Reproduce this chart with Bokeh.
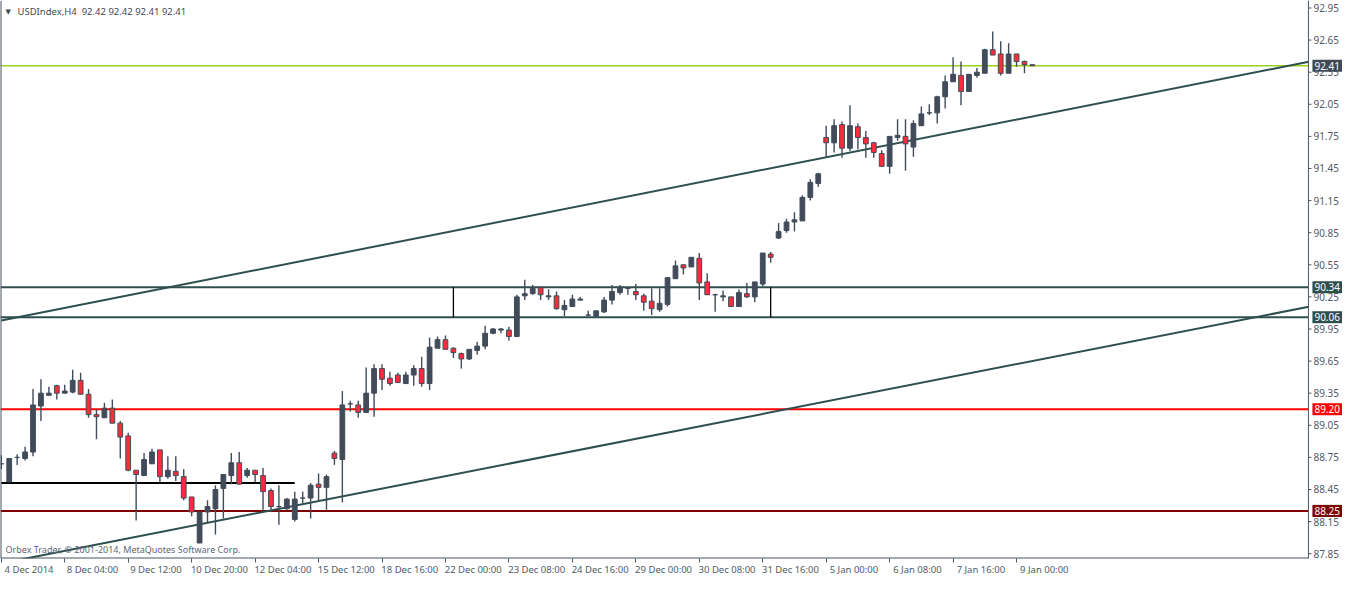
from bokeh.plotting import figure
from bokeh.models import Range1d, FixedTicker, Label, ColumnDataSource, LinearAxis
from bokeh.core.properties import value
from bokeh.embed import file_html
from bokeh.resources import INLINE

# ---------------- data ----------------
symbol = "USDIndex,H4"

opens = [88.69, 88.52, 88.75, 88.74, 88.80, 89.23, 89.33, 89.42, 89.35, 89.36,
         89.47, 89.34, 89.15, 89.12, 89.21, 89.07, 88.95, 88.63, 88.58, 88.69,
         88.82, 88.57, 88.62, 88.57, 88.38, 87.95, 88.24, 88.27, 88.46, 88.58,
         88.70, 88.58, 88.63, 88.58, 88.44, 88.29, 88.27, 88.17, 88.37, 88.37,
         88.50, 88.47, 88.79, 88.73, 89.25, 89.24, 89.17, 89.35, 89.58, 89.49,
         89.52, 89.44, 89.52, 89.58, 89.44, 89.77, 89.85, 89.77, 89.72, 89.67,
         89.75, 89.79, 89.91, 89.94, 89.94, 89.88, 90.26, 90.28, 90.34, 90.25,
         90.26, 90.13, 90.16, 90.22, 90.08, 90.07, 90.11, 90.22, 90.29, 90.33,
         90.30, 90.26, 90.21, 90.13, 90.18, 90.42, 90.55, 90.53, 90.61, 90.39,
         90.27, 90.25, 90.25, 90.16, 90.28, 90.25, 90.37, 90.65, 90.80, 90.87,
         90.95, 90.96, 91.18, 91.31, 91.74, 91.69, 91.86, 91.64, 91.84, 91.74,
         91.69, 91.59, 91.47, 91.74, 91.75, 91.65, 91.85, 91.97, 91.97, 92.12,
         92.26, 92.32, 92.17, 92.32, 92.34, 92.56, 92.52, 92.34, 92.52, 92.45,
         92.42]
highs = [88.77, 88.74, 88.78, 88.85, 89.39, 89.48, 89.41, 89.43, 89.43, 89.57,
         89.54, 89.39, 89.20, 89.26, 89.29, 89.09, 88.98, 88.63, 88.79, 88.83,
         88.82, 88.76, 88.76, 88.64, 88.38, 88.24, 88.35, 88.49, 88.59, 88.79,
         88.80, 88.65, 88.63, 88.65, 88.46, 88.49, 88.37, 88.43, 88.43, 88.51,
         88.60, 88.59, 88.81, 89.37, 89.28, 89.28, 89.59, 89.62, 89.62, 89.55,
         89.54, 89.55, 89.61, 89.69, 89.87, 89.88, 89.89, 89.78, 89.73, 89.76,
         89.83, 89.98, 89.96, 89.96, 89.97, 90.27, 90.41, 90.36, 90.34, 90.32,
         90.30, 90.22, 90.27, 90.25, 90.12, 90.12, 90.25, 90.36, 90.36, 90.34,
         90.37, 90.28, 90.33, 90.33, 90.43, 90.59, 90.55, 90.62, 90.66, 90.47,
         90.28, 90.31, 90.25, 90.32, 90.38, 90.39, 90.66, 90.67, 90.94, 90.98,
         91.04, 91.20, 91.35, 91.41, 91.85, 91.91, 91.89, 92.04, 91.87, 91.80,
         91.70, 91.62, 91.75, 91.91, 91.91, 91.90, 92.03, 92.05, 92.13, 92.32,
         92.49, 92.45, 92.33, 92.39, 92.57, 92.73, 92.64, 92.62, 92.52, 92.46,
         92.42]
lows = [88.64, 88.52, 88.68, 88.72, 88.76, 89.09, 89.33, 89.29, 89.35, 89.35,
        89.34, 89.12, 88.92, 89.12, 89.07, 88.74, 88.62, 88.16, 88.58, 88.69,
        88.52, 88.55, 88.53, 88.35, 88.20, 87.95, 88.14, 88.03, 88.18, 88.50,
        88.50, 88.56, 88.52, 88.26, 88.24, 88.12, 88.26, 88.15, 88.32, 88.18,
        88.34, 88.26, 88.68, 88.33, 89.18, 89.12, 89.17, 89.13, 89.38, 89.42,
        89.45, 89.44, 89.42, 89.41, 89.38, 89.77, 89.76, 89.68, 89.58, 89.66,
        89.71, 89.76, 89.90, 89.91, 89.84, 89.88, 90.22, 90.27, 90.22, 90.22,
        90.13, 90.07, 90.16, 90.22, 90.07, 90.06, 90.10, 90.18, 90.27, 90.27,
        90.22, 90.12, 90.08, 90.11, 90.16, 90.42, 90.46, 90.53, 90.22, 90.27,
        90.11, 90.21, 90.16, 90.16, 90.24, 90.20, 90.35, 90.57, 90.79, 90.85,
        90.86, 90.96, 91.15, 91.28, 91.55, 91.60, 91.55, 91.61, 91.63, 91.55,
        91.55, 91.47, 91.40, 91.71, 91.43, 91.56, 91.85, 91.95, 91.87, 92.01,
        92.26, 92.04, 92.17, 92.30, 92.34, 92.51, 92.32, 92.34, 92.40, 92.34,
        92.41]
closes = [88.69, 88.74, 88.75, 88.80, 89.24, 89.35, 89.35, 89.35, 89.37, 89.47,
          89.34, 89.15, 89.13, 89.21, 89.07, 88.94, 88.63, 88.59, 88.73, 88.80,
          88.57, 88.63, 88.58, 88.37, 88.24, 88.24, 88.29, 88.45, 88.59, 88.70,
          88.50, 88.63, 88.59, 88.43, 88.29, 88.29, 88.36, 88.36, 88.37, 88.49,
          88.47, 88.57, 88.74, 89.24, 89.25, 89.17, 89.35, 89.58, 89.48, 89.44,
          89.45, 89.52, 89.58, 89.44, 89.78, 89.85, 89.76, 89.73, 89.67, 89.76,
          89.79, 89.91, 89.95, 89.95, 89.88, 90.25, 90.28, 90.33, 90.27, 90.26,
          90.14, 90.17, 90.23, 90.23, 90.08, 90.12, 90.22, 90.30, 90.34, 90.33,
          90.27, 90.20, 90.14, 90.19, 90.43, 90.54, 90.52, 90.62, 90.38, 90.27,
          90.27, 90.26, 90.16, 90.29, 90.25, 90.39, 90.66, 90.62, 90.86, 90.95,
          90.97, 91.18, 91.32, 91.40, 91.69, 91.85, 91.64, 91.85, 91.74, 91.68,
          91.60, 91.47, 91.75, 91.76, 91.68, 91.87, 91.96, 91.97, 92.12, 92.26,
          92.33, 92.17, 92.33, 92.35, 92.56, 92.51, 92.34, 92.52, 92.45, 92.42,
          92.41]

x_tick_bars = [0, 8, 16, 24, 32, 40, 48, 56, 64, 72, 80, 88, 96, 104, 112, 120, 128]
x_tick_labels = ["4 Dec 2014", "8 Dec 04:00", "9 Dec 12:00", "10 Dec 20:00", "12 Dec 04:00",
                 "15 Dec 12:00", "18 Dec 16:00", "22 Dec 00:00", "23 Dec 08:00", "24 Dec 16:00",
                 "29 Dec 00:00", "30 Dec 08:00", "31 Dec 16:00", "5 Jan 00:00", "6 Jan 08:00",
                 "7 Jan 16:00", "9 Jan 00:00"]
y_ticks = [87.85, 88.15, 88.45, 88.75, 89.05, 89.35, 89.65, 89.95, 90.25,
           90.55, 90.85, 91.15, 91.45, 91.75, 92.05, 92.35, 92.65, 92.95]

bid_level = 92.41
channel_levels = [90.34, 90.06]
resistance_level = 89.20
support_level = 88.25
short_support_level = 88.51
short_support_bars = [0, 37]
box_edge_bars = [57, 97]
upper_trend_bars = [0, 165]
upper_trend_prices = [90.03, 92.45]
lower_trend_bars = [0, 165]
lower_trend_prices = [87.76, 90.16]

# ---------------- styles ----------------
BULL = "#414b5a"
BEAR = "#ff2b3b"
FRAME = "#4a5560"
TICKTXT = "#4e5b68"
SLATE = "#2f4f4f"
FONT = "Noto Sans"
X0, AXIS_X, X1 = -0.1, 164.8, 169.6      # view start, price-axis position, view end (bars)
Y0, Y1 = 87.805, 93.02
LABEL_SHIFT = 3.5                          # date labels start right of their tick

n = len(opens)
xs = list(range(n))
tops = [max(o, c) for o, c in zip(opens, closes)]
bottoms = [min(o, c) for o, c in zip(opens, closes)]
fills = [BEAR if c < o else BULL for o, c in zip(opens, closes)]
src = ColumnDataSource(dict(x=xs, top=tops, bottom=bottoms, high=highs, low=lows, fill=fills))

p = figure(width=1346, height=578, x_range=Range1d(X0, X1), y_range=Range1d(Y0, Y1),
           y_axis_location=None, output_backend="svg", toolbar_location=None,
           min_border_left=0, min_border_top=0, min_border_bottom=0, min_border_right=0)
p.background_fill_color = "white"
p.border_fill_color = "white"
p.outline_line_color = None
p.grid.visible = False

# bottom axis: tick marks only
p.xaxis.ticker = FixedTicker(ticks=x_tick_bars)
p.xaxis.major_label_overrides = {b: "" for b in x_tick_bars}
p.xaxis.major_label_text_font_size = "0px"
p.xaxis.major_label_standoff = 0
p.xaxis.axis_line_color = None
p.xaxis.major_tick_line_color = FRAME
p.xaxis.minor_tick_line_color = None
p.xaxis.major_tick_in = 0
p.xaxis.major_tick_out = 4

# second bottom axis: the date labels, starting just right of each tick
label_pos = [b + LABEL_SHIFT for b in x_tick_bars]
date_axis = LinearAxis(ticker=FixedTicker(ticks=label_pos),
                       major_label_overrides={q: t for q, t in zip(label_pos, x_tick_labels)},
                       axis_line_color=None, major_tick_line_color=None, minor_tick_line_color=None,
                       major_tick_in=0, major_tick_out=0, major_label_standoff=0,
                       major_label_text_font=FONT, major_label_text_font_size="9.5px",
                       major_label_text_color=TICKTXT)
p.add_layout(date_axis, "below")

# horizontal levels (stop at the price scale)
lvl_y = [channel_levels[0], channel_levels[1], resistance_level, support_level, bid_level]
lvl_col = [SLATE, SLATE, "#ff0000", "#800000", "#96d21e"]
lvl_w = [2, 2, 2, 2, 1.5]
p.segment(x0=[X0] * 5, y0=lvl_y, x1=[AXIS_X] * 5, y1=lvl_y, line_color=lvl_col, line_width=lvl_w)

# short support line and box edges
p.line(short_support_bars, [short_support_level] * 2, line_color="black", line_width=2)
for b in box_edge_bars:
    p.line([b, b], channel_levels, line_color="black", line_width=1.3)

# trend channel
p.line(upper_trend_bars, upper_trend_prices, line_color=SLATE, line_width=2)
p.line(lower_trend_bars, lower_trend_prices, line_color=SLATE, line_width=2)

# candles
p.segment(x0="x", y0="low", x1="x", y1="high", source=src, line_color=BULL, line_width=1.4)
p.vbar(x="x", width=0.6, top="top", bottom="bottom", source=src,
       fill_color="fill", line_color=BULL, line_width=1)

# price-scale area (right)
p.quad(left=[AXIS_X], right=[X1 + 1], bottom=[Y0 - 1], top=[Y1 + 1], fill_color="white", line_color=None)
p.segment(x0=[X0, AXIS_X, X0], y0=[Y0, Y0, Y0], x1=[X0, AXIS_X, AXIS_X], y1=[Y1, Y1, Y0],
          line_color=FRAME, line_width=[2, 1, 2])
p.ray(x=[AXIS_X] * len(y_ticks), y=y_ticks, length=3, length_units="screen", angle=0,
      line_color=FRAME, line_width=1)
p.text(x=[AXIS_X] * len(y_ticks), y=y_ticks, text=[f"{t:.2f}" for t in y_ticks], x_offset=5,
       text_baseline="middle", text_align="left", text_font=value(FONT),
       text_font_size="10px", text_color=TICKTXT)

box_levels = [bid_level, channel_levels[0], channel_levels[1], resistance_level, support_level]
box_colors = ["#3e4b57", SLATE, SLATE, "#ff0000", "#800000"]
box_src = ColumnDataSource(dict(x=[AXIS_X] * len(box_levels), y=box_levels,
                                t=[f"{v:.2f}" for v in box_levels], c=box_colors))
p.text(x="x", y="y", text="t", source=box_src, x_offset=4, text_baseline="middle", text_align="left",
       text_font=value(FONT), text_font_size="10px", text_color="white",
       background_fill_color="c", padding=2)

# title and copyright
title = symbol + "\u00A0\u00A0" + " ".join(f"{v:.2f}" for v in (opens[-1], highs[-1], lows[-1], closes[-1]))
p.add_layout(Label(x=X0, y=Y1, text="\u25BC", anchor="top_left", x_offset=5, y_offset=-7,
                   text_font="DejaVu Sans", text_font_size="7px", text_color="#3f4a55"))
p.add_layout(Label(x=X0, y=Y1, text=title, anchor="top_left", x_offset=17, y_offset=-4,
                   text_font=FONT, text_font_size="9.5px", text_color="#3f4a55"))
p.add_layout(Label(x=X0, y=Y0, text="Orbex Trader, \u00A9 2001-2014, MetaQuotes Software Corp.",
                   anchor="bottom_left", x_offset=5, y_offset=3,
                   text_font=FONT, text_font_size="9px", text_color="#5b6875"))

open("out.html", "w").write(file_html(p, INLINE))
